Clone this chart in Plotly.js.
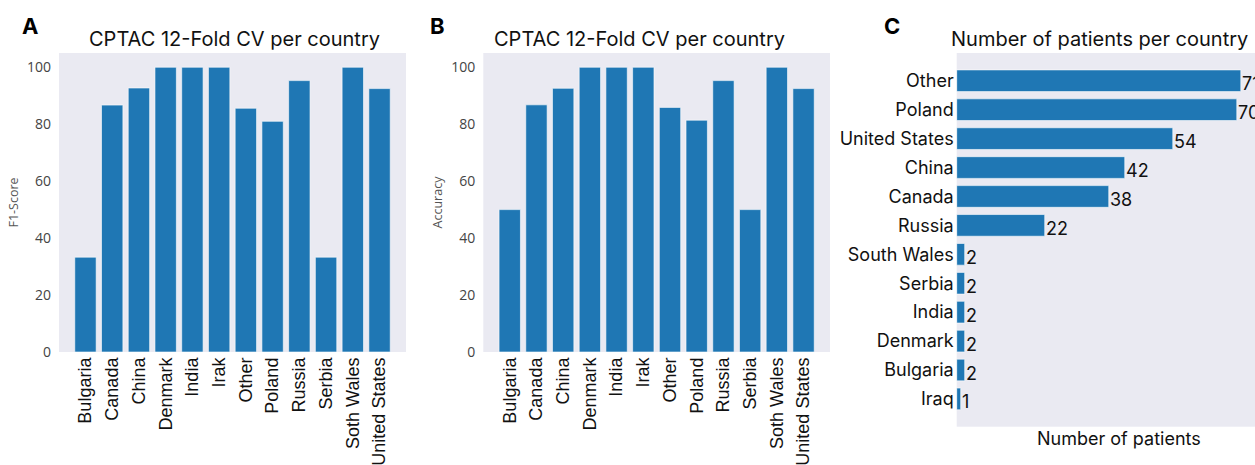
<!DOCTYPE html>
<html>
<head>
<meta charset="utf-8">
<script src="https://cdn.plot.ly/plotly-3.0.1.min.js"></script>
<style>html,body{margin:0;padding:0;background:#fff;}#chart{width:1255px;height:465px;}</style>
</head>
<body>
<div id="chart"></div>
<script>
// ---- data ----
var countries = ['Bulgaria','Canada','China','Denmark','India','Irak','Other','Poland','Russia','Serbia','Soth Wales','United States'];
var f1Scores = [33.3, 86.7, 92.7, 100, 100, 100, 85.6, 81.0, 95.3, 33.3, 100, 92.5];
var accuracies = [50, 86.8, 92.6, 100, 100, 100, 85.9, 81.4, 95.3, 50, 100, 92.5];
var patientCountries = ['Other','Poland','United States','China','Canada','Russia','South Wales','Serbia','India','Denmark','Bulgaria','Iraq'];
var patientCounts = [71, 70, 54, 42, 38, 22, 2, 2, 2, 2, 2, 1];
var yTicks = [0, 20, 40, 60, 80, 100];

var W = 1255, H = 465;
function px(x){return x / W;}
function py(y){return 1 - y / H;}

var barColor = '#1f77b4';
var bg = '#eaeaf2';
var fontFam = 'Inter, "Noto Sans", sans-serif';
var tickFam = '"Open Sans", "Noto Sans", sans-serif';
var xTickFam = '"Liberation Sans", Arial, sans-serif';

var traces = [
  {type:'bar', x:countries, y:f1Scores, xaxis:'x', yaxis:'y', width:0.8,
   marker:{color:barColor, line:{color:'#ffffff', width:0.6}}, hoverinfo:'x+y'},
  {type:'bar', x:countries, y:accuracies, xaxis:'x2', yaxis:'y2', width:0.8,
   marker:{color:barColor, line:{color:'#ffffff', width:0.6}}, hoverinfo:'x+y'},
  {type:'bar', orientation:'h', x:patientCounts, y:patientCountries, xaxis:'x3', yaxis:'y3', width:0.75,
   marker:{color:barColor, line:{color:'#ffffff', width:0.6}}, hoverinfo:'x+y'}
];

var ytickFont = {family:tickFam, size:14, color:'#444444'};
var xtickFont = {family:xTickFam, size:18, color:'#111111'};

function catX(domain){
  return {domain:domain, type:'category', categoryorder:'array', categoryarray:countries,
    range:[-0.99, 11.99], tickangle:-90, tickfont:xtickFont, ticks:'', showgrid:false,
    zeroline:false, showline:false, ticklabelstandoff:1, fixedrange:true};
}
function valY(domain, anchor, title){
  return {domain:domain, anchor:anchor, range:[0,105], tickvals:yTicks, ticks:'', showgrid:false,
    zeroline:false, showline:false, tickfont:ytickFont, ticklabelstandoff:7,
    title:{text:title, font:{family:tickFam, size:12.5, color:'#555555'}, standoff:5}};
}

var yDomAB = [py(352), py(53)];
var layout = {
  width:W, height:H, margin:{l:0, r:0, t:0, b:0},
  paper_bgcolor:'#ffffff', plot_bgcolor:bg, showlegend:false, bargap:0,
  xaxis: Object.assign(catX([px(59), px(406)]), {anchor:'y'}),
  yaxis: valY(yDomAB, 'x', 'F1-Score'),
  xaxis2: Object.assign(catX([px(483.3), px(830)]), {anchor:'y2'}),
  yaxis2: valY(yDomAB, 'x2', 'Accuracy'),
  xaxis3: {domain:[px(956.7), 1], anchor:'y3', range:[0, 74.55], showticklabels:false, ticks:'',
    showgrid:false, zeroline:false, showline:false},
  yaxis3: {domain:[py(426.7), py(53)], anchor:'x3', type:'category', categoryorder:'array',
    categoryarray:patientCountries, range:[11.96, -0.96], ticks:'', showgrid:false, zeroline:false,
    showline:false, tickfont:{family:fontFam, size:18, color:'#111111'}, ticklabelstandoff:2},
  annotations: [],
  font:{family:fontFam}
};

// titles
function addText(text, x, y, size, bold, anchor){
  layout.annotations.push({xref:'paper', yref:'paper', x:px(x), y:py(y), text: bold ? '<b>'+text+'</b>' : text,
    showarrow:false, xanchor:anchor || 'center', yanchor:'middle',
    font:{family:fontFam, size:size, color:bold ? '#000' : '#111'}});
}
addText('CPTAC 12-Fold CV per country', 234, 39, 20, false);
addText('CPTAC 12-Fold CV per country', 639, 39, 20, false);
addText('Number of patients per country', 1099, 39, 20, false);
addText('Number of patients', 1119, 438, 18, false);
addText('A', 30, 26, 22, true);
addText('B', 437, 26, 22, true);
addText('C', 892, 26, 22, true);

// value labels in panel C
for (var i = 0; i < patientCounts.length; i++) {
  layout.annotations.push({xref:'x3', yref:'y3', x:patientCounts[i], y:patientCountries[i],
    text:String(patientCounts[i]), showarrow:false, xanchor:'left', yanchor:'middle', xshift:-1, yshift:-3,
    font:{family:fontFam, size:18, color:'#111111'}});
}

Plotly.newPlot('chart', traces, layout, {staticPlot:true, displayModeBar:false});
</script>
</body>
</html>
